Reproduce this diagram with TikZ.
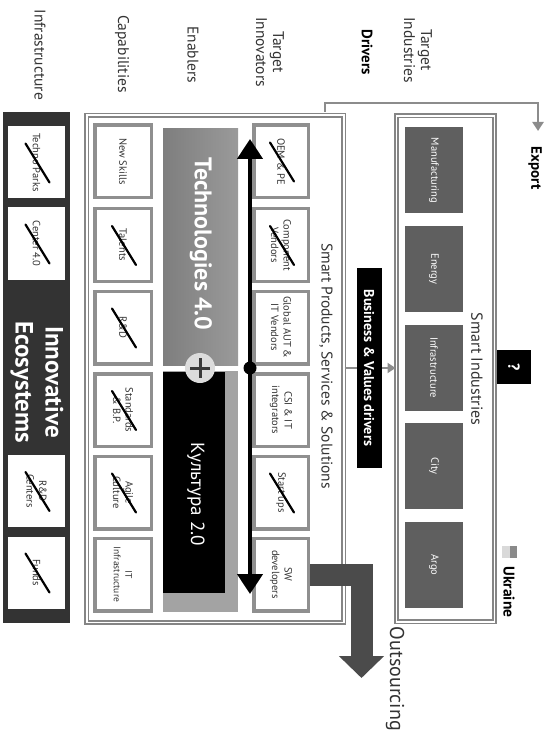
\documentclass[tikz,border=0pt]{standalone}
\usepackage{fontspec}
\setmainfont{PT Sans}
\usetikzlibrary{arrows.meta}
\definecolor{infdark}{HTML}{333333}
\definecolor{bordergray}{HTML}{8F8F8F}
\definecolor{framegray}{HTML}{858585}
\definecolor{indgray}{HTML}{5F5F5F}
\definecolor{techL}{HTML}{7E7E7E}
\definecolor{techR}{HTML}{9A9A9A}
\definecolor{lowgray}{HTML}{A3A3A3}
\definecolor{pluscircle}{HTML}{DCDCDC}
\definecolor{plusdark}{HTML}{3A3A3A}
\definecolor{arrgray}{HTML}{8C8C8C}
\definecolor{outgray}{HTML}{4B4B4B}
\definecolor{flaglight}{HTML}{D9D9D9}
\definecolor{flagdark}{HTML}{8A8A8A}
\definecolor{txtgray}{HTML}{333333}
\newcommand\xstrike[1]{\draw[strikeline] ([shift={(-11,-19)}]#1.center) -- ([shift={(13,20)}]#1.center);}
\begin{document}
\begin{tikzpicture}[x=1pt,y=-1pt,
  rot/.style={rotate=-90, align=center, inner sep=0pt},
  lbl/.style={rot, font=\fontsize{15.5}{17}\selectfont, text=txtgray},
  whitebox/.style={rot, fill=white, minimum width=72, minimum height=57, font=\fontsize{10.5}{12.5}\selectfont, text=txtgray},
  capbox/.style={rot, fill=white, draw=bordergray, line width=3.5pt, minimum width=72.5, minimum height=56.5, font=\fontsize{10.5}{12.5}\selectfont, text=txtgray},
  indbox/.style={rot, fill=indgray, minimum width=86, minimum height=58, text=white, font=\fontsize{10.5}{12.5}\selectfont},
  strikeline/.style={line width=2.2pt, black, line cap=round},
  dframe/.style={draw=framegray, double=white, line width=1.6pt, double distance=1.6pt, inner sep=0pt},
  blockfill/.style={inner sep=0pt, anchor=north west},
]
\useasboundingbox (0,0) rectangle (546,735);
\fill[white] (0,0) rectangle (546,735);

% ---- top labels
\node[lbl] (l1) at (40,55) {Infrastructure};
\node[lbl] (l2) at (122,54) {Capabilities};
\node[lbl] (l3) at (193,55) {Enablers};
\node[lbl] (l4) at (270,52) {Target\\Innovators};
\node[lbl, text=black, font=\bfseries\fontsize{15}{16}\selectfont] (l5) at (367,52) {Drivers};
\node[lbl] (l6) at (418,50) {Target\\Industries};

% ---- infrastructure
\node[blockfill, fill=infdark, minimum width=67, minimum height=511] (infra) at (3,112) {};
\node[whitebox] (tp) at (36.5,162.5) {Techno Parks};
\node[whitebox] (c40) at (36.5,243.5) {Center 4.0};
\node[whitebox] (rdc) at (36.5,491) {R\&D\\Centers};
\node[whitebox] (fu) at (36.5,572.5) {Funds};
\node[rot, text=white, font=\bfseries\fontsize{25}{30}\selectfont] (ie) at (37,382) {Innovative\\Ecosystems};
\xstrike{tp}\xstrike{c40}\xstrike{rdc}\xstrike{fu}

% ---- main frame
\node[dframe, blockfill, minimum width=257, minimum height=507] (spss) at (86,114.5) {};

% capabilities
\node[capbox] (ns) at (123,161.5) {New Skills};
\node[capbox] (ta) at (123,245) {Talents};
\node[capbox] (rd) at (123,327.5) {R\&D};
\node[capbox] (st) at (123,410) {Standards\\\& B.P.};
\node[capbox] (ag) at (123,492.5) {Agile\\Culture};
\node[capbox, font=\fontsize{9.5}{11.5}\selectfont] (iti) at (123,574.5) {IT\\Infrastructure};
\xstrike{ta}\xstrike{rd}\xstrike{st}\xstrike{ag}

% enablers
\node[blockfill, left color=techL, right color=techR, minimum width=75, minimum height=240] (tech) at (163,128) {};
\node[blockfill, fill=lowgray, minimum width=75, minimum height=246] (kbg) at (163,366) {};
\node[blockfill, fill=black, minimum width=62, minimum height=221] (kult) at (163,372) {};
\node[rot, text=white, font=\bfseries\fontsize{24}{26}\selectfont] (t40) at (201,244) {Technologies 4.0};
\node[rot, text=white, font=\fontsize{19}{21}\selectfont] (k20) at (196,494) {Культура 2.0};
\draw[white, line width=5pt] (163,368) -- (250,368);
\node[circle, fill=pluscircle, minimum size=30, inner sep=0pt] (plus) at (200,368) {};
\draw[plusdark, line width=3pt] ([shift={(-10,0)}]plus.center) -- ([shift={(10,0)}]plus.center);
\draw[plusdark, line width=3pt] ([shift={(0,-10)}]plus.center) -- ([shift={(0,10)}]plus.center);

% innovators
\node[capbox, minimum height=54.5] (oem) at (281,161.5) {OEM \& PE};
\node[capbox, minimum height=54.5] (cv) at (281,245) {Component\\Vendors};
\node[capbox, minimum height=54.5] (ga) at (281,327.5) {Global AUT \&\\IT Vendors};
\node[capbox, minimum height=54.5] (csi) at (281,410) {CSI \& IT\\integrators};
\node[capbox, minimum height=54.5] (su) at (281,492.5) {Start ups};
\node[capbox, minimum height=54.5] (sw) at (281,574.5) {SW\\developers};
\xstrike{oem}\xstrike{cv}\xstrike{su}

% black double arrow
\coordinate (atop) at (250,139);
\coordinate (abot) at (250,594);
\draw[line width=4.5pt, {Triangle[width=25pt,length=20pt]}-{Triangle[width=25pt,length=20pt]}] (atop) -- (abot);
\node[circle, fill=black, minimum size=13, inner sep=0pt] (hub) at (250,368) {};

\node[lbl, font=\fontsize{15.5}{17}\selectfont] (spsst) at (326,366) {Smart Products, Services \& Solutions};

% ---- smart industries
\node[dframe, blockfill, minimum width=98, minimum height=506] (si) at (395.5,115) {};
\node[indbox] (man) at (434,170.5) {Manufacturing};
\node[indbox] (ene) at (434,269) {Energy};
\node[indbox] (inf) at (434,367.5) {Infrastructure};
\node[indbox] (cit) at (434,466) {City};
\node[indbox] (arg) at (434,565) {Argo};
\node[lbl, font=\fontsize{16}{17}\selectfont] (sit) at (477,369) {Smart Industries};
\node[rot, fill=black, text=white, font=\bfseries\fontsize{16}{17}\selectfont, minimum size=34] (q) at (514,367) {?};

% drivers arrow + label
\draw[arrgray, line width=2.5pt, -{Triangle[width=10pt,length=8pt]}] (spss.east |- hub) -- (si.west |- hub);
\node[rot, fill=black, text=white, font=\bfseries\fontsize{14.2}{15}\selectfont, minimum width=200, minimum height=25] (bv) at (369,368) {Business \& Values drivers};

% export
\coordinate (e0) at (325,112);
\coordinate (e1) at (538,131);
\draw[arrgray, line width=2.5pt, -{Triangle[width=11pt,length=9pt]}] (e0) -- ++(0,-9) -| (e1);
\node[rot, text=black, font=\bfseries\fontsize{15}{16}\selectfont] (ex) at (535,168) {Export};

% outsourcing
\coordinate (o1) at (361.5,678);
\draw[outgray, line width=22pt, -{Triangle[width=44pt,length=22pt]}] (sw.north) -| (o1);
\node[rot, text=txtgray, font=\fontsize{20}{22}\selectfont] (outs) at (395,679) {Outsourcing};

% ukraine legend
\fill[flaglight] (502,546) rectangle (509.5,558);
\fill[flagdark] (509.5,546) rectangle (517,558);
\node[rot, text=black, font=\bfseries\fontsize{15.5}{16}\selectfont] (ua) at (509,592) {Ukraine};
\end{tikzpicture}
\end{document}
